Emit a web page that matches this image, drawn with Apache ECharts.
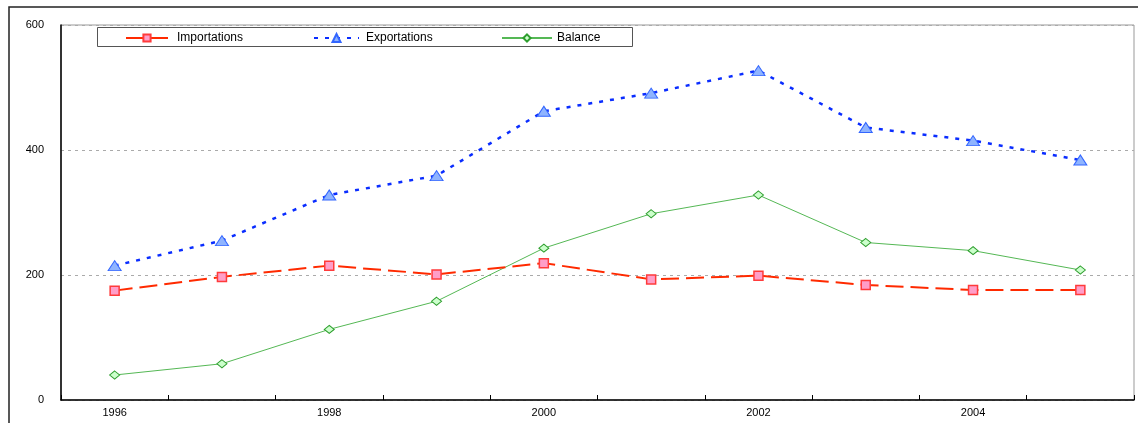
<!DOCTYPE html>
<html>
<head>
<meta charset="utf-8">
<script src="https://cdn.jsdelivr.net/npm/echarts@6/dist/echarts.min.js"></script>
<style>
html,body{margin:0;padding:0;background:#fff;}
#chart{width:1138px;height:423px;}
</style>
</head>
<body>
<div id="chart"></div>
<script>
const years = ['1996','1997','1998','1999','2000','2001','2002','2003','2004','2005'];
const importations = [175,197,215,201,219,193,199,184,176,176];
const exportations = [215,255,328,359,462,491,527,436,415,384];
const balance = [40,58,113,158,243,298,328,252,239,208];
const yTicks = [0,200,400,600];

const chart = echarts.init(document.getElementById('chart'), null, {renderer:'canvas'});
const font = 'Arial, "Liberation Sans", sans-serif';
const legendText = {fontSize:12, color:'#000', fontFamily:font};

chart.setOption({
  animation:false,
  backgroundColor:'#fff',
  graphic:[
    {type:'rect', z:0, shape:{x:9, y:7, width:1200, height:500}, style:{fill:'none', stroke:'#222', lineWidth:1.5}},
    {type:'rect', z:10, shape:{x:97.5, y:27.5, width:535, height:19}, style:{fill:'#fff', stroke:'#555', lineWidth:1}}
  ],
  grid:{left:61, right:4, top:25, bottom:23, show:true, borderColor:'#999', borderWidth:1},
  legend:[
    {data:['Importations'], left:125, top:32, padding:0, itemWidth:42, itemHeight:9, z:20, textStyle:Object.assign({padding:[0,0,0,4]}, legendText)},
    {data:['Exportations'], left:313, top:32, padding:0, itemWidth:45, itemHeight:10, z:20, textStyle:Object.assign({padding:[0,0,0,2]}, legendText)},
    {data:['Balance'], left:501, top:32, padding:0, itemWidth:50, itemHeight:9, z:20, textStyle:Object.assign({padding:[0,0,0,0]}, legendText)}
  ],
  xAxis:{
    type:'category', data:years, boundaryGap:true,
    axisLine:{lineStyle:{color:'#000', width:1.5}},
    axisTick:{show:true, inside:true, length:5, interval:0, alignWithLabel:false, lineStyle:{color:'#000'}},
    axisLabel:{interval:1, color:'#000', fontSize:11, fontFamily:font, margin:7}
  },
  yAxis:{
    type:'value', min:yTicks[0], max:yTicks[yTicks.length-1], interval:200,
    axisLine:{show:true, lineStyle:{color:'#000', width:1.5}},
    axisTick:{show:false},
    axisLabel:{color:'#000', fontSize:11, fontFamily:font, margin:17},
    splitLine:{show:true, lineStyle:{color:'#aaa', type:[3,4], width:1}}
  },
  series:[
    {name:'Importations', type:'line', data:importations, symbol:'rect', symbolSize:9,
     lineStyle:{color:'#ff2a00', width:2, type:[18,7]},
     itemStyle:{color:'#ff9ec8', borderColor:'#ff3b3b', borderWidth:1.5}, z:3},
    {name:'Exportations', type:'line', data:exportations, symbol:'triangle', symbolSize:[13,10],
     lineStyle:{color:'#0a2dff', width:2.5, type:[4,7]},
     itemStyle:{color:'#8fb4ff', borderColor:'#3366ff', borderWidth:1}, z:4},
    {name:'Balance', type:'line', data:balance, symbol:'diamond', symbolSize:[10,8],
     lineStyle:{color:'#55b855', width:1, type:'solid'},
     itemStyle:{color:'#ccffcc', borderColor:'#2e9e2e', borderWidth:1}, z:2}
  ]
});
</script>
</body>
</html>
